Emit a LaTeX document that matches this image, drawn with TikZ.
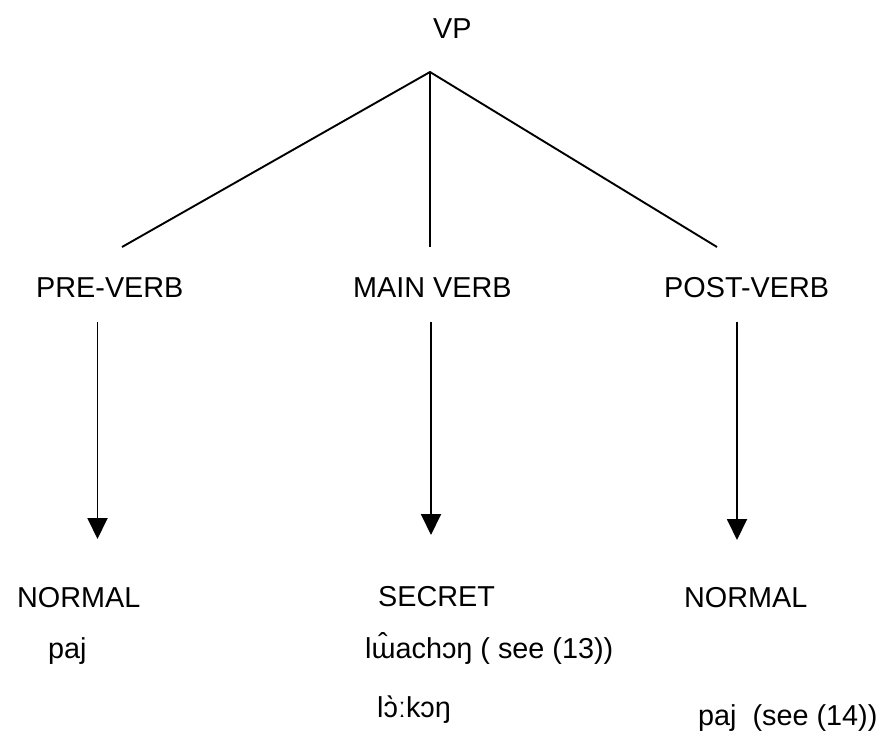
\documentclass[tikz,border=0pt]{standalone}
\usepackage{fontspec}
\setmainfont{Liberation Sans}
\usetikzlibrary{arrows.meta}
\begin{document}
\begin{tikzpicture}[x=1pt,y=-1pt,
    lbl/.style={inner sep=0pt,anchor=base west,font=\fontsize{28.8}{33}\selectfont},
    branch/.style={line width=1.9pt,line join=round},
    down/.style={line width=1.9pt,-{Triangle[width=20pt,length=21pt]}}]
  \useasboundingbox (0,0) rectangle (887,734);

  % root
  \node[lbl] (vp) at (433,38) {VP};
  \coordinate (apex) at (430,72);

  % categories
  \node[lbl] (pre)  at (36,297)  {PRE-VERB};
  \node[lbl] (main) at (353,297) {MAIN VERB};
  \node[lbl] (post) at (664,297) {POST-VERB};

  \coordinate (preTop)  at (122,247);
  \coordinate (mainTop) at (430,247);
  \coordinate (postTop) at (717,247);
  \draw[branch] (preTop) -- (apex) -- (postTop);
  \draw[branch] (apex) -- (mainTop);

  % register arrows
  \coordinate (preA)  at (97.5,322);
  \coordinate (preB)  at (97.5,539);
  \coordinate (mainA) at (431,322);
  \coordinate (mainB) at (431,535);
  \coordinate (postA) at (737,322);
  \coordinate (postB) at (737,540);
  \draw[down] (preA) -- (preB);
  \draw[down] (mainA) -- (mainB);
  \draw[down] (postA) -- (postB);

  % registers and forms
  \node[lbl] (normL) at (17,607)  {NORMAL};
  \node[lbl] (secr)  at (378,606) {SECRET};
  \node[lbl] (normR) at (684,607) {NORMAL};

  \node[lbl] (pajL)  at (48,658)  {paj};
  \node[lbl] (luea)  at (365,658) {lɯ̂achɔŋ ( see (13))};
  \node[lbl] (lokon) at (377,717) {lɔ̀ːkɔŋ};
  \node[lbl] (pajR)  at (698,725) {paj\ \ (see (14))};
\end{tikzpicture}
\end{document}
